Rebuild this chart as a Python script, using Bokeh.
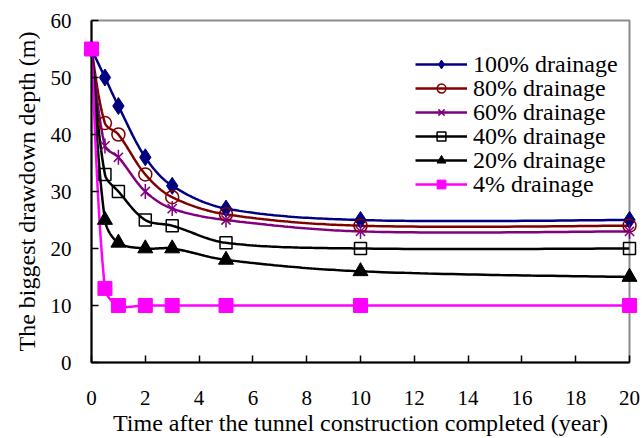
import numpy as np
from bokeh.plotting import figure
from bokeh.models import Range1d, FixedTicker, Legend, LegendItem
from bokeh.embed import file_html
from bokeh.resources import INLINE

years = [0, 0.5, 1, 2, 3, 5, 10, 20]
drain_100 = [55, 50, 45, 36, 31, 27, 25, 25]
drain_80 = [55, 42, 40, 33, 29, 26, 24, 24]
drain_60 = [55, 38, 36, 30, 27, 25, 23, 23]
drain_40 = [55, 33, 30, 25, 24, 21, 20, 20]
drain_20 = [55, 25, 21, 20, 20, 18, 16, 15]
drain_4 = [55, 13, 10, 10, 10, 10, 10, 10]
labels = ["100% drainage", "80% drainage", "60% drainage",
          "40% drainage", "20% drainage", "4% drainage"]
x_ticks = list(range(0, 21, 2))
y_ticks = list(range(0, 61, 10))

FONT = "Liberation Serif"

p = figure(width=644, height=438, output_backend="svg", toolbar_location=None,
           x_range=Range1d(0, 20), y_range=Range1d(0, 60),
           min_border_left=91, min_border_right=15, min_border_top=20,
           min_border_bottom=76)
p.background_fill_color = "white"
p.border_fill_color = "white"
p.outline_line_color = "#8c8c8c"
p.outline_line_width = 2
p.xgrid.visible = False
p.ygrid.visible = False

sx = 538 / 20.0
sy = 342 / 60.0


def smooth(xs, ys, n=40):
    P = np.column_stack([np.asarray(xs, float) * sx, np.asarray(ys, float) * sy])
    m = len(P)
    pts = []
    for i in range(m - 1):
        p0 = P[i - 1] if i > 0 else P[i]
        p1 = P[i]
        p2 = P[i + 1]
        p3 = P[i + 2] if i + 2 < m else P[i + 1]
        d01 = np.linalg.norm(p1 - p0)
        d12 = np.linalg.norm(p2 - p1)
        d23 = np.linalg.norm(p3 - p2)
        if i > 0 and d01 + d12 > 0:
            c1 = p1 + (p2 - p0) * d12 / (d01 + d12) / 3.0
        else:
            c1 = p1 + (p2 - p1) / 6.0
        if i + 2 < m and d12 + d23 > 0:
            c2 = p2 - (p3 - p1) * d12 / (d12 + d23) / 3.0
        else:
            c2 = p2 - (p2 - p1) / 6.0
        t = np.linspace(0, 1, n)[:, None]
        if i > 0:
            t = t[1:]
        B = ((1 - t) ** 3) * p1 + 3 * ((1 - t) ** 2) * t * c1 + 3 * (1 - t) * t ** 2 * c2 + t ** 3 * p2
        pts.append(B)
    pts = np.vstack(pts)
    return pts[:, 0] / sx, pts[:, 1] / sy


series = [drain_100, drain_80, drain_60, drain_40, drain_20, drain_4]
colors = ["#000080", "#800000", "#800080", "#000000", "#000000", "#ff00ff"]
row_pitch = 24.0
first_row_from_top = 44.5  # row centre below the frame top, in pixels
for i, ys in enumerate(series):
    c = colors[i]
    cx, cy = smooth(years, ys)
    lr = p.line(cx, cy, line_color=c, line_width=2.5)
    rs = [lr]
    if i == 0:
        rs.append(p.scatter(years, ys, marker="diamond", size=17, fill_color=c, line_color=c))
    elif i == 1:
        rs.append(p.scatter(years, ys, marker="circle", size=13, fill_color=None, line_color=c, line_width=1.5))
    elif i == 2:
        rs.append(p.scatter(years, ys, marker="x", size=13, line_color=c, line_width=1.5))
        rs.append(p.scatter(years, ys, marker="dash", size=15, angle=np.pi / 2, line_color=c, line_width=1.5))
    elif i == 3:
        rs.append(p.scatter(years, ys, marker="square", size=12, fill_color="white", fill_alpha=0, line_color=c, line_width=1.5))
    elif i == 4:
        rs.append(p.scatter(years, ys, marker="triangle", size=15, fill_color=c, line_color=c))
    else:
        rs.append(p.scatter(years, ys, marker="square", size=14, fill_color=c, line_color=c))
    for r in rs[1:]:
        r.level = "overlay"
    centre_from_bottom = 342 - (first_row_from_top + row_pitch * i)
    leg = Legend(items=[LegendItem(label=labels[i], renderers=rs)],
                 location=(324, centre_from_bottom - 13), border_line_color=None,
                 background_fill_alpha=0, padding=0, margin=0, spacing=0,
                 glyph_width=52, glyph_height=22, label_height=22,
                 label_standoff=6, label_text_font=FONT,
                 label_text_font_size="24px", label_text_color="black")
    p.add_layout(leg)

for ax in (p.xaxis[0], p.yaxis[0]):
    ax.axis_line_color = "black"
    ax.axis_line_width = 2
    ax.major_tick_in = 7
    ax.major_tick_out = 0
    ax.minor_tick_in = 0
    ax.minor_tick_out = 0
    ax.major_tick_line_color = "black"
    ax.major_tick_line_width = 1.5
    ax.major_label_text_font = FONT
    ax.major_label_text_font_size = "21px"
    ax.major_label_text_color = "black"
    ax.major_label_text_line_height = 1.0
    ax.axis_label_text_font = FONT
    ax.axis_label_text_font_size = "24px"
    ax.axis_label_text_font_style = "normal"
    ax.axis_label_text_color = "black"
    ax.axis_label_text_line_height = 1.0

p.xaxis.ticker = FixedTicker(ticks=x_ticks)
p.yaxis.ticker = FixedTicker(ticks=y_ticks)
p.xaxis.axis_label = "Time after the tunnel construction completed (year)"
p.yaxis.axis_label = "The biggest drawdown depth (m)"
p.xaxis.major_label_standoff = 28
p.yaxis.major_label_standoff = 20
p.xaxis.axis_label_standoff = 2
p.yaxis.axis_label_standoff = 8

open("out.html", "w").write(file_html(p, INLINE))
